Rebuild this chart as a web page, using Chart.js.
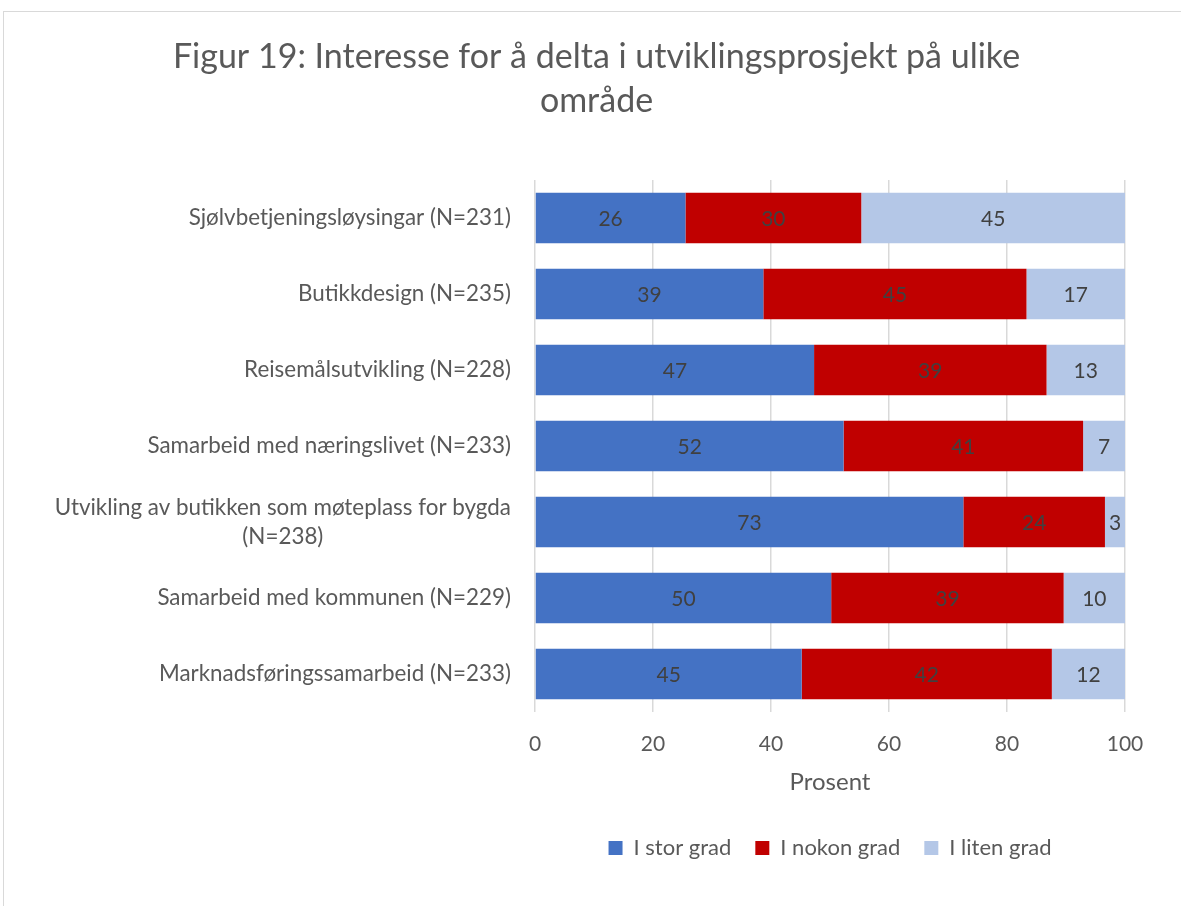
<!DOCTYPE html>
<html>
<head>
<meta charset="utf-8">
<script src="https://cdn.jsdelivr.net/npm/chart.js@4.4.1/dist/chart.umd.min.js"></script>
<style>
  body { margin: 0; background: #fff; }
  #frame { position: absolute; left: 3px; top: 11px; width: 1200px; height: 920px; border: 1px solid #d9d9d9; }
  #wrap { position: absolute; left: 0; top: 0; width: 1181px; height: 906px; }
</style>
</head>
<body>
<div id="frame"></div>
<div id="wrap"><canvas id="chart" width="1181" height="906"></canvas></div>
<script>
// categories (top to bottom)
var categories = [
    "Sjølvbetjeningsløysingar (N=231)",
    "Butikkdesign (N=235)",
    "Reisemålsutvikling (N=228)",
    "Samarbeid med næringslivet (N=233)",
    ["Utvikling av butikken som møteplass for bygda", "(N=238)"],
    "Samarbeid med kommunen (N=229)",
    "Marknadsføringssamarbeid (N=233)"
];
var seriesNames = ["I stor grad", "I nokon grad", "I liten grad"];
// percent
var storGrad = [25.5, 38.7, 47.3, 52.3, 72.6, 50.2, 45.2];
var nokonGrad = [29.8, 44.6, 39.4, 40.6, 24.0, 39.4, 42.4];
var litenGrad = [44.7, 16.7, 13.3, 7.1, 3.4, 10.4, 12.4];
var xTicks = [0, 20, 40, 60, 80, 100];

var FONT = "Lato";
var GREY = "#595959";

// draws the category labels, multi-line ones centred on their widest line
var yLabelPlugin = {
    id: 'yLabels',
    afterDraw: function (chart) {
        var ctx = chart.ctx;
        var yScale = chart.scales.y;
        var right = chart.chartArea.left - 24;
        ctx.save();
        ctx.font = "22.4px " + FONT;
        ctx.fillStyle = GREY;
        ctx.textAlign = "center";
        ctx.textBaseline = "middle";
        categories.forEach(function (lab, i) {
            var lines = Array.isArray(lab) ? lab : [lab];
            var w = 0;
            lines.forEach(function (l) { w = Math.max(w, ctx.measureText(l).width); });
            var cy = yScale.getPixelForValue(i);
            var lh = 29;
            var y0 = cy - (lines.length - 1) * lh / 2;
            lines.forEach(function (l, k) {
                ctx.fillText(l, right - w / 2, y0 + k * lh);
            });
        });
        ctx.restore();
    }
};

// value labels in the middle of each segment
var valueLabelPlugin = {
    id: 'valueLabels',
    afterDatasetsDraw: function (chart) {
        var ctx = chart.ctx;
        ctx.save();
        ctx.font = "21px " + FONT;
        ctx.fillStyle = "#404040";
        ctx.textAlign = "center";
        ctx.textBaseline = "middle";
        chart.data.datasets.forEach(function (ds, di) {
            var meta = chart.getDatasetMeta(di);
            meta.data.forEach(function (bar, i) {
                var cx = (bar.x + bar.base) / 2;
                ctx.fillText(Math.round(ds.data[i]), cx, bar.y + 1);
            });
        });
        ctx.restore();
    }
};

new Chart(document.getElementById("chart").getContext("2d"), {
    type: 'bar',
    data: {
        labels: categories,
        datasets: [
            { label: seriesNames[0], data: storGrad, backgroundColor: "#4472C4", yAxisID: 'y' },
            { label: seriesNames[1], data: nokonGrad, backgroundColor: "#C00000", yAxisID: 'y' },
            { label: seriesNames[2], data: litenGrad, backgroundColor: "#B4C7E7", yAxisID: 'y' }
        ]
    },
    options: {
        indexAxis: 'y',
        responsive: false,
        animation: false,
        events: [],
        categoryPercentage: 1,
        barPercentage: 0.665,
        layout: { padding: { left: 33, right: 21, top: 0, bottom: 37 } },
        scales: {
            y: {
                stacked: true,
                grid: { display: false },
                border: { display: false },
                ticks: { display: false },
                afterFit: function (scale) { scale.width = 502; }
            },
            yRight: {
                type: 'category',
                position: 'right',
                grid: { display: false },
                border: { display: false },
                ticks: { display: false },
                afterFit: function (scale) { scale.width = 35; }
            },
            x: {
                stacked: true,
                min: 0,
                max: 100,
                afterBuildTicks: function (scale) {
                    scale.ticks = xTicks.map(function (v) { return { value: v }; });
                },
                afterFit: function (scale) { scale.height = 101; },
                grid: { color: "#d9d9d9", lineWidth: 1.5, drawTicks: false },
                border: { display: false },
                ticks: { color: GREY, font: { family: FONT, size: 21 }, padding: 20, maxRotation: 0 },
                title: { display: true, text: "Prosent", color: GREY, font: { family: FONT, size: 24 }, padding: { top: 0, bottom: 16.6 } }
            }
        },
        plugins: {
            title: {
                display: true,
                text: ["Figur 19: Interesse for å delta i utviklingsprosjekt på ulike", "område"],
                color: GREY,
                font: { family: FONT, size: 34, weight: 'normal', lineHeight: 1.294 },
                padding: { top: 35, bottom: 57 }
            },
            legend: {
                position: 'bottom',
                fullSize: false,
                labels: {
                    color: GREY,
                    font: { family: FONT, size: 22 },
                    boxWidth: 14,
                    boxHeight: 14,
                    padding: 24
                }
            },
            tooltip: { enabled: false }
        }
    },
    plugins: [yLabelPlugin, valueLabelPlugin]
});
</script>
</body>
</html>
